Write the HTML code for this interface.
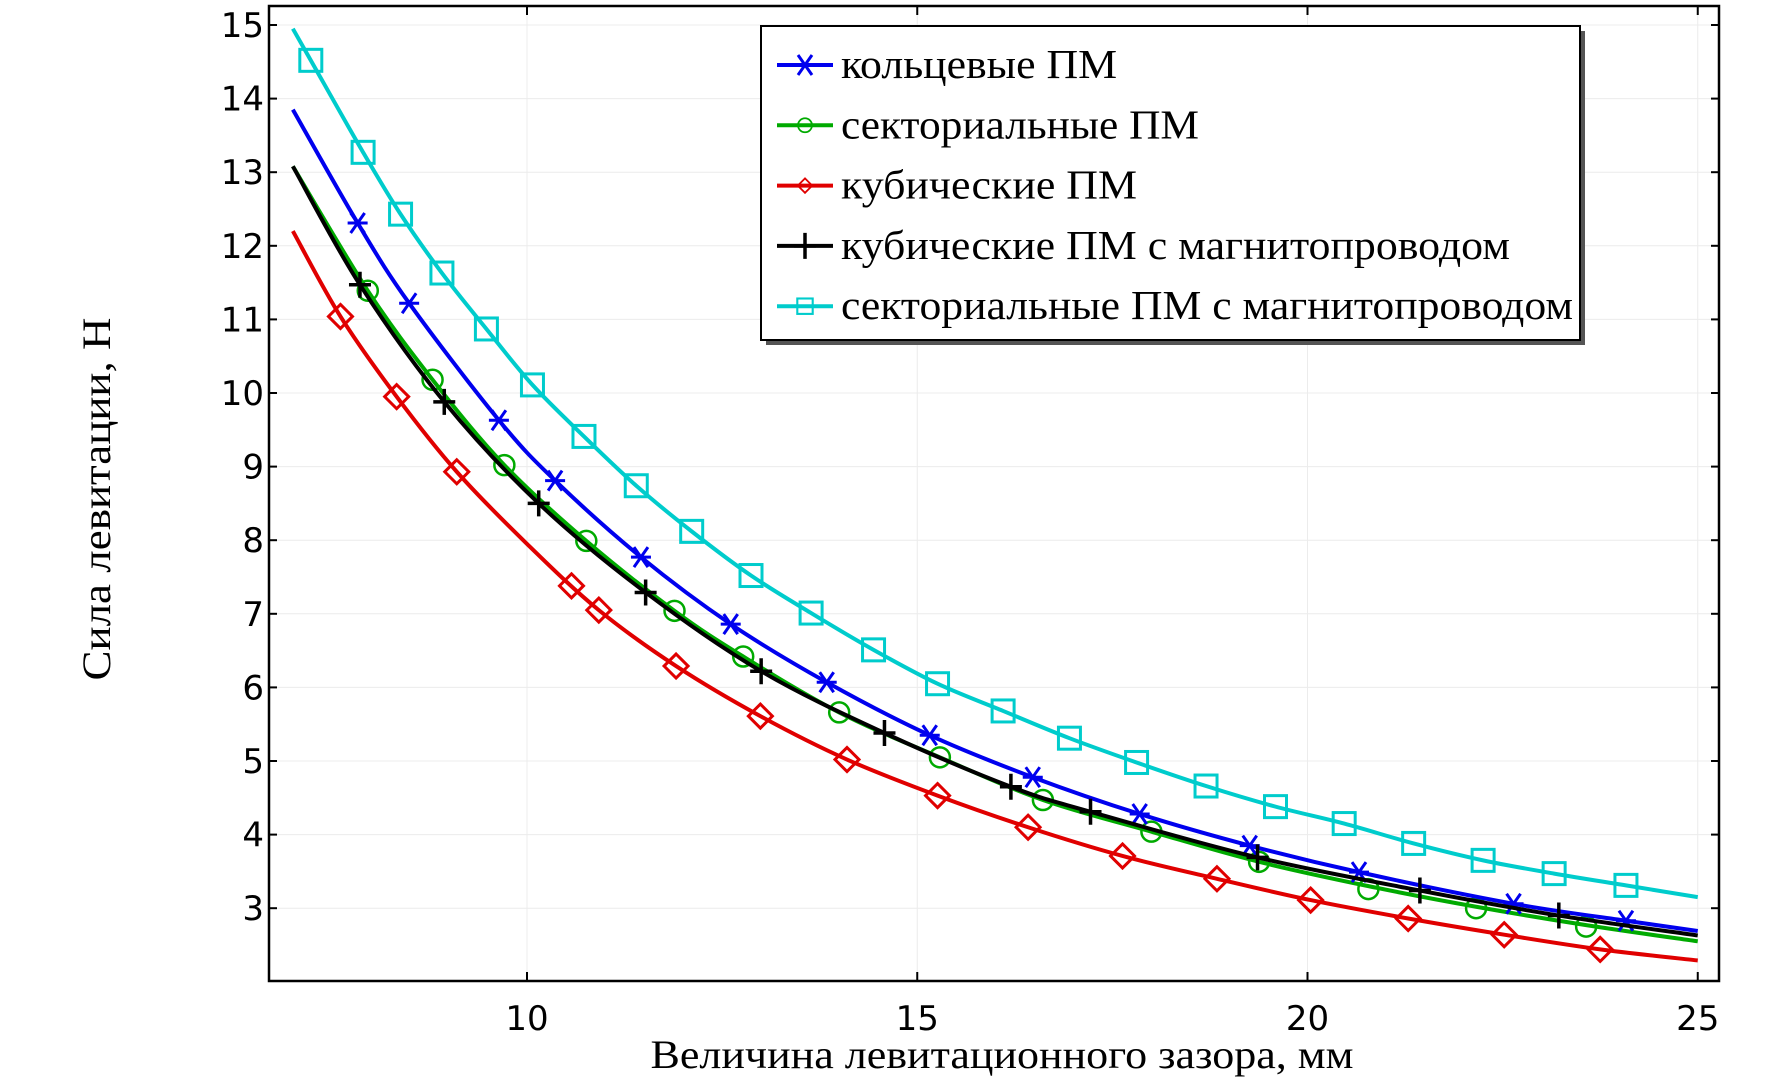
<!DOCTYPE html>
<html><head><meta charset="utf-8"><style>
html,body{margin:0;padding:0;background:#fff;}
svg{display:block;}
</style></head><body>
<svg id="s" width="1786" height="1078" xmlns="http://www.w3.org/2000/svg">
<rect width="1786" height="1078" fill="#fff"/>
<g id="grid"></g>
<g id="series"></g>
<g id="axes"></g>
<g id="legend"></g>
</svg>
<script>
const NS="http://www.w3.org/2000/svg";
const X=v=>527+(v-10)*78.05, Y=v=>25+(15-v)*73.6;
const L=269,R=1719,T=6,B=981;
function el(p,tag,a,txt){const e=document.createElementNS(NS,tag);for(const k in a)e.setAttribute(k,a[k]);if(txt!==undefined)e.textContent=txt;p.appendChild(e);return e;}
const g=document.getElementById('grid'),ax=document.getElementById('axes'),se=document.getElementById('series'),lg=document.getElementById('legend');
const tf='"DejaVu Sans","Liberation Sans",sans-serif';
for(let v=3;v<=15;v++){const y=Y(v);el(g,'line',{x1:L,x2:R,y1:y,y2:y,stroke:'#ececec','stroke-width':1});
 el(ax,'line',{x1:L,x2:L+8,y1:y,y2:y,stroke:'#000','stroke-width':2});el(ax,'line',{x1:R-8,x2:R,y1:y,y2:y,stroke:'#000','stroke-width':2});
 el(ax,'text',{x:264,y:y+12,'text-anchor':'end','font-family':tf,'font-size':34},v);}
for(const v of [10,15,20,25]){const x=X(v);el(g,'line',{x1:x,x2:x,y1:T,y2:B,stroke:'#ececec','stroke-width':1});
 el(ax,'line',{x1:x,x2:x,y1:B-9,y2:B,stroke:'#000','stroke-width':2});el(ax,'line',{x1:x,x2:x,y1:T,y2:T+9,stroke:'#000','stroke-width':2});
 el(ax,'text',{x:x,y:1030,'text-anchor':'middle','font-family':tf,'font-size':34},v);}
el(ax,'rect',{x:L,y:T,width:R-L,height:B-T,fill:'none',stroke:'#000','stroke-width':2.5});
el(ax,'text',{x:1002,y:1068,'text-anchor':'middle','font-family':'"Liberation Serif",serif','font-size':40,textLength:703,lengthAdjust:'spacingAndGlyphs'},'Величина левитационного зазора, мм');
el(ax,'text',{x:0,y:0,transform:'translate(110,499) rotate(-90)','text-anchor':'middle','font-family':'"Liberation Serif",serif','font-size':40,textLength:363,lengthAdjust:'spacingAndGlyphs'},'Сила левитации, Н');

function path(pts){const P=pts.map(p=>[X(p[0]),Y(p[1])]);let d='M'+P[0][0]+' '+P[0][1];
 for(let i=0;i<P.length-1;i++){const p0=P[i-1]||P[i],p1=P[i],p2=P[i+1],p3=P[i+2]||P[i+1];
  d+=' C'+(p1[0]+(p2[0]-p0[0])/6)+' '+(p1[1]+(p2[1]-p0[1])/6)+' '+(p2[0]-(p3[0]-p1[0])/6)+' '+(p2[1]-(p3[1]-p1[1])/6)+' '+p2[0]+' '+p2[1];}
 return d;}
function marker(p,type,x,y,c){
 if(type=='sq')el(p,'rect',{x:x-11,y:y-11,width:22,height:22,fill:'none',stroke:c,'stroke-width':3});
 else if(type=='ci')el(p,'circle',{cx:x,cy:y,r:10,fill:'none',stroke:c,'stroke-width':2.5});
 else if(type=='di')el(p,'path',{d:`M${x} ${y-12}L${x+12} ${y}L${x} ${y+12}L${x-12} ${y}Z`,fill:'none',stroke:c,'stroke-width':3});
 else if(type=='pl')el(p,'path',{d:`M${x-11} ${y}H${x+11}M${x} ${y-13}V${y+13}`,stroke:c,'stroke-width':3.5});
 else if(type=='st')el(p,'path',{d:`M${x-10} ${y}H${x+10}M${x-7} ${y-10}L${x+7} ${y+10}M${x+7} ${y-10}L${x-7} ${y+10}`,stroke:c,'stroke-width':3});
}
const S=[
{c:'#e00000',t:'di',curve:[[7,12.2],[7.61,11.04],[8.33,9.95],[9.1,8.93],[10.0,7.95],[10.92,7.05],[11.91,6.29],[12.99,5.61],[14.1,5.02],[15.26,4.53],[16.42,4.1],[17.63,3.71],[18.84,3.4],[20.04,3.11],[21.29,2.86],[22.52,2.64],[23.75,2.44],[25,2.29]],
 m:[[7.61,11.04],[8.33,9.95],[9.1,8.93],[10.57,7.38],[10.92,7.05],[11.91,6.29],[12.99,5.61],[14.1,5.02],[15.26,4.53],[16.42,4.1],[17.63,3.71],[18.84,3.4],[20.04,3.11],[21.29,2.86],[22.52,2.64],[23.75,2.44]]},
{c:'#00aa00',t:'ci',curve:[[7,13.08],[7.96,11.39],[8.79,10.18],[9.71,9.02],[10.76,7.99],[11.89,7.04],[12.77,6.42],[14.0,5.66],[15.29,5.05],[16.61,4.47],[18.0,4.04],[19.38,3.63],[20.78,3.3],[22.16,3.02],[23.57,2.77],[25,2.55]],
 m:[[7.96,11.39],[8.79,10.18],[9.71,9.02],[10.76,7.99],[11.89,7.04],[12.77,6.42],[14.0,5.66],[15.29,5.05],[16.61,4.47],[18.0,4.04],[19.38,3.63],[20.78,3.26],[22.16,3.0],[23.57,2.75]]},
{c:'#0000ee',t:'st',curve:[[7,13.85],[7.83,12.31],[8.49,11.22],[9.64,9.63],[10.36,8.81],[11.46,7.77],[12.61,6.86],[13.84,6.07],[15.16,5.35],[16.48,4.78],[17.85,4.28],[19.26,3.85],[20.66,3.49],[22.64,3.06],[24.08,2.83],[25,2.69]],
 m:[[7.83,12.31],[8.49,11.22],[9.64,9.63],[10.36,8.81],[11.46,7.77],[12.61,6.86],[13.84,6.07],[15.16,5.35],[16.48,4.78],[17.85,4.28],[19.26,3.85],[20.66,3.49],[22.64,3.06],[24.08,2.83]]},
{c:'#000000',t:'pl',curve:[[7,13.08],[7.86,11.47],[8.94,9.88],[10.15,8.5],[11.52,7.29],[13.0,6.22],[14.58,5.38],[16.2,4.65],[17.22,4.31],[19.36,3.69],[21.44,3.24],[23.22,2.9],[25,2.63]],
 m:[[7.86,11.47],[8.94,9.88],[10.15,8.5],[11.52,7.29],[13.0,6.22],[14.58,5.38],[16.2,4.65],[17.22,4.31],[19.36,3.69],[21.44,3.24],[23.22,2.9]]},
{c:'#00cccc',t:'sq',curve:[[7,14.95],[7.23,14.52],[7.9,13.27],[8.38,12.43],[8.91,11.63],[9.48,10.87],[10.07,10.11],[10.73,9.41],[11.4,8.74],[12.11,8.12],[12.87,7.52],[13.64,7.01],[14.44,6.51],[15.26,6.05],[16.1,5.68],[16.95,5.31],[17.81,4.98],[18.7,4.66],[19.59,4.38],[20.47,4.15],[21.36,3.88],[22.25,3.65],[23.16,3.47],[24.08,3.31],[25,3.15]],
 m:[[7.23,14.52],[7.9,13.27],[8.38,12.43],[8.91,11.63],[9.48,10.87],[10.07,10.11],[10.73,9.41],[11.4,8.74],[12.11,8.12],[12.87,7.52],[13.64,7.01],[14.44,6.51],[15.26,6.05],[16.1,5.68],[16.95,5.31],[17.81,4.98],[18.7,4.66],[19.59,4.38],[20.47,4.15],[21.36,3.88],[22.25,3.65],[23.16,3.47],[24.08,3.31]]}
];
for(const s of S){el(se,'path',{d:path(s.curve),fill:'none',stroke:s.c,'stroke-width':4,'stroke-linejoin':'round'});
 for(const p of s.m)marker(se,s.t,X(p[0]),Y(p[1]),s.c);}
// legend
el(lg,'rect',{x:766,y:31,width:819,height:314,fill:'#555'});
el(lg,'rect',{x:761,y:26,width:819,height:314,fill:'#fff',stroke:'#000','stroke-width':2});
const LE=[['#0000ee','st','кольцевые ПМ',276],['#00aa00','ci','секториальные ПМ',358],['#e00000','di','кубические ПМ',296],['#000000','pl','кубические ПМ с магнитопроводом',669],['#00cccc','sq','секториальные ПМ с магнитопроводом',732]];
LE.forEach((e,i)=>{const y=65+i*60.3;el(lg,'line',{x1:777,x2:833,y1:y,y2:y,stroke:e[0],'stroke-width':4});
 const sc=e[1]=='ci'?0.7:(e[1]=='di'?0.6:(e[1]=='sq'?0.7:1));
 const gg=el(lg,'g',{transform:`translate(805 ${y}) scale(${sc}) translate(-805 ${-y})`});marker(gg,e[1],805,y,e[0]);
 el(lg,'text',{x:841,y:y+13,'font-family':'"Liberation Serif",serif','font-size':41,textLength:e[3],lengthAdjust:'spacingAndGlyphs'},e[2]);});
</script>
</body></html>
